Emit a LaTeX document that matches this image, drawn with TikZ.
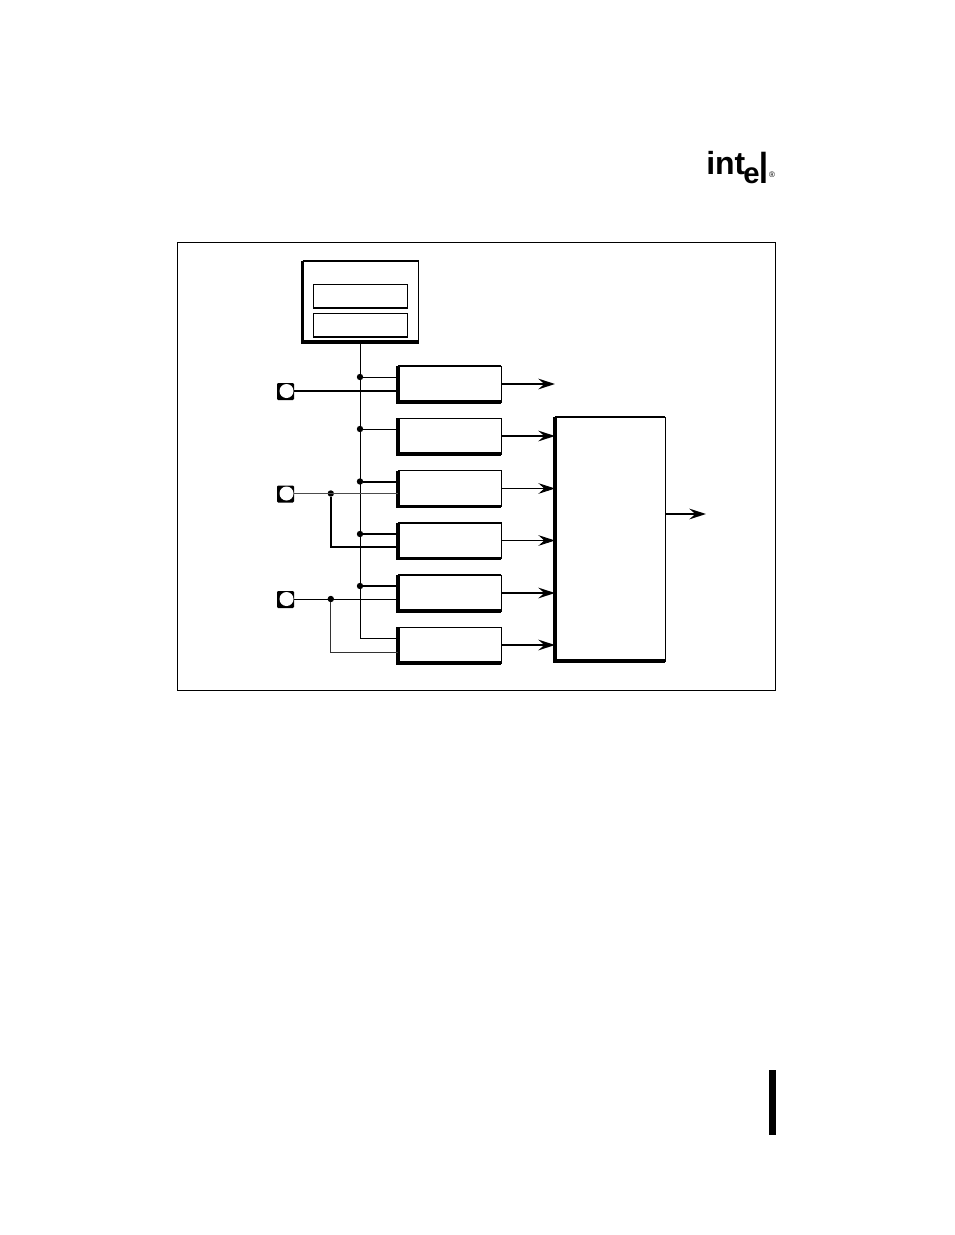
\documentclass[tikz,border=0pt]{standalone}
\usepackage{fontspec}
\setmainfont{Liberation Sans}
\usepackage{xcolor}
\usetikzlibrary{arrows.meta}

\tikzset{
  thinline/.style={line width=0.7pt},
  midline/.style={line width=1.5pt},
  heavyline/.style={line width=2.4pt},
  sig/.style={-{Stealth[length=12.5pt,width=8pt,inset=4.5pt]}},
  regbox/.style={rectangle, draw, thinline, outer sep=0pt, fill=white, minimum width=77.25pt, minimum height=27pt},
  latchbox/.style={rectangle, draw, thinline, outer sep=0pt, minimum width=70.5pt, minimum height=18pt},
  junction/.style={circle, fill=black, inner sep=0pt, minimum size=4.8pt},
  pinbody/.style={rectangle, fill=black, rounded corners=0.8pt, inner sep=0pt, minimum size=12.75pt},
  pinhole/.style={circle, fill=white, inner sep=0pt, minimum size=10.5pt},
  logo/.style={inner sep=0pt, anchor=base west, font=\bfseries\fontsize{24}{24}\selectfont}
}

\begin{document}
\begin{tikzpicture}[x=0.75pt, y=-0.75pt]
\useasboundingbox (0,0) rectangle (954,1235);

% logo and page tab
\node (logoint) [logo] at (706,174) {int};
\node (logoe) [logo, font=\bfseries\fontsize{22}{22}\selectfont] at (743,183) {e};
\node (logol) [logo] at (759,183) {\scalebox{1}[1.35]{l}};
\node (logoreg) [font=\fontsize{6}{6}\selectfont, inner sep=0pt] at (772,175) {®};
\node (tab) [rectangle, fill=black, inner sep=0pt, minimum width=5.25pt, minimum height=48.75pt] at (772.5,1102.5) {};

% outer frame
\node (frame) [rectangle, draw, thinline, minimum width=448.5pt, minimum height=336pt] at (476.5,466) {};

% timer block
\node (timer) [rectangle, draw, thinline, outer sep=0pt, minimum width=87pt, minimum height=60.75pt] at (360.5,301.5) {};
\node (latchA) [latchbox] at (360,296) {};
\node (latchB) [latchbox] at (360,325) {};
\draw[heavyline] (timer.north west) -- (timer.south west) -- (timer.south east);
\draw[midline] (timer.north west) -- (timer.north east);
\draw[midline] (latchA.south west) -- (latchA.south east);
\draw[midline] (latchB.south west) -- (latchB.south east);

% capture compare units
\node (unitA) [regbox] at (449.5,384) {};
\node (unitB) [regbox] at (449.5,436) {};
\node (unitC) [regbox] at (449.5,488.5) {};
\node (unitD) [regbox] at (449.5,540.5) {};
\node (unitE) [regbox] at (449.5,593) {};
\node (unitF) [regbox] at (449.5,645) {};
\node (mux) [rectangle, draw, thinline, outer sep=0pt, minimum width=82.5pt, minimum height=183pt] at (610,539) {};

\draw[heavyline] (unitA.north west) -- (unitA.south west) -- (unitA.south east);
\draw[midline] (unitA.north west) -- (unitA.north east);
\draw[heavyline] (unitB.north west) -- (unitB.south west) -- (unitB.south east);
\draw[heavyline] (unitC.north west) -- (unitC.south west) -- (unitC.south east);
\draw[heavyline] (unitD.north west) -- (unitD.south west) -- (unitD.south east);
\draw[midline] (unitD.north west) -- (unitD.north east);
\draw[heavyline] (unitE.north west) -- (unitE.south west) -- (unitE.south east);
\draw[midline] (unitE.north west) -- (unitE.north east);
\draw[heavyline] (unitF.north west) -- (unitF.south west) -- (unitF.south east);
\draw[midline] (mux.north west) -- (mux.north east);
\draw[heavyline] (mux.north west) -- (mux.south west) -- (mux.south east);

% timer bus
\node (tapA) [junction] at (360,377) {};
\node (tapB) [junction] at (360,429) {};
\node (tapC) [junction] at (360,481.5) {};
\node (tapD) [junction] at (360,534) {};
\node (tapE) [junction] at (360,586) {};
\coordinate (busend) at (360.5,638.5);
\draw[thinline] (timer.south) -- (busend) -- (busend -| unitF.west);
\draw[thinline] (tapA) -- (tapA -| unitA.west);
\draw[thinline] (tapB) -- (tapB -| unitB.west);
\draw[midline] (tapC) -- (tapC -| unitC.west);
\draw[midline] (tapD) -- (tapD -| unitD.west);
\draw[midline] (tapE) -- (tapE -| unitE.west);

% input pins
\node (pinA) [pinbody] at (285.5,391.5) {};
\node (holeA) [pinhole] at (286.5,391) {};
\node (pinB) [pinbody] at (285.5,494) {};
\node (holeB) [pinhole] at (286.5,493.5) {};
\node (pinC) [pinbody] at (285.5,599.5) {};
\node (holeC) [pinhole] at (286.5,599) {};
\node (forkB) [junction] at (330.8,493.5) {};
\node (forkC) [junction] at (330.8,599) {};
\coordinate (bendB) at (330.8,547);
\coordinate (bendC) at (330.8,652.5);

\draw[midline] (holeA.east) -- (holeA.east -| unitA.west);
\draw[thinline, black!70] (holeB.east) -- (holeB.east -| unitC.west);
\draw[midline] (forkB) -- (bendB) -- (bendB -| unitD.west);
\draw[thinline] (holeC.east) -- (holeC.east -| unitE.west);
\draw[line width=1pt, black!80] (forkC) -- (bendC) -- (bendC -| unitF.west);

% outputs
\coordinate (freeA) at (555,384);
\coordinate (muxout) at (706,514);
\draw[sig, midline] (unitA.east) -- (freeA);
\draw[sig, midline] (unitB.east) -- (unitB.east -| mux.west);
\draw[sig, thinline] (unitC.east) -- (unitC.east -| mux.west);
\draw[sig, thinline] (unitD.east) -- (unitD.east -| mux.west);
\draw[sig, midline] (unitE.east) -- (unitE.east -| mux.west);
\draw[sig, midline] (unitF.east) -- (unitF.east -| mux.west);
\draw[sig, midline] (muxout -| mux.east) -- (muxout);
\end{tikzpicture}
\end{document}
